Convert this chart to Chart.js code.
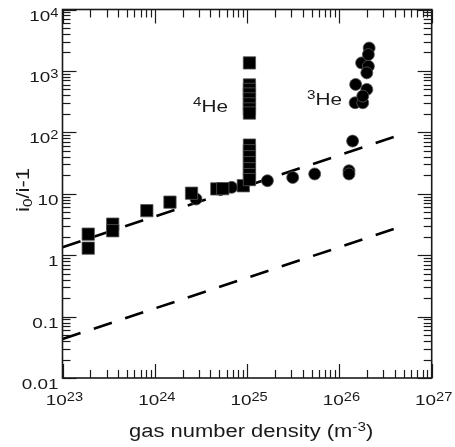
<!DOCTYPE html>
<html>
<head>
<meta charset="utf-8">
<script src="https://cdn.jsdelivr.net/npm/chart.js@4.4.1/dist/chart.umd.min.js"></script>
<style>
  html, body { margin: 0; padding: 0; background: #fff; }
  #wrap { width: 455px; height: 447px; }
</style>
</head>
<body>
<div id="wrap"><canvas id="plot"></canvas></div>
<script>
// 4He points (squares)
const he4Density = [1.9e23, 1.9e23, 3.5e23, 3.5e23, 8.2e23, 1.46e24, 2.5e24, 4.7e24, 5.45e24, 9.1e24,
  1.06e25, 1.06e25, 1.06e25, 1.06e25, 1.06e25, 1.06e25, 1.06e25, 1.06e25,
  1.06e25, 1.06e25, 1.06e25, 1.06e25, 1.06e25, 1.06e25, 1.06e25];
const he4Ratio = [2.2, 1.3, 3.2, 2.5, 5.3, 7.3, 10.2, 12.0, 12.1, 13.5,
  1350, 590, 500, 420, 350, 290, 240, 206,
  62, 50, 40, 32, 25.5, 20.5, 17];

// 3He points (circles)
const he3Density = [2.8e24, 6.8e24, 1.66e25, 3.12e25, 5.4e25, 1.27e26, 1.27e26, 1.39e26,
  1.48e26, 1.79e26, 1.5e26, 1.98e26, 1.79e26, 1.74e26, 2.06e26, 1.98e26, 2.1e26, 2.06e26];
const he3Ratio = [8.2, 12.7, 16.3, 18.4, 21, 23.7, 21, 72,
  303, 303, 603, 500, 389, 1350, 1190, 929, 2360, 1845];

// dashed reference lines (end points)
const lineDensity = [1e23, 4e26];
const upperLine = [1.35, 85];
const lowerLine = [0.043, 2.7];

// axis ticks
const xExponents = [23, 24, 25, 26, 27];
const yTickValues = [0.01, 0.1, 1, 10, 100, 1000, 10000];
const yTickLabels = [['0.01'], ['0.1'], ['1'], ['10'], ['10', '2'], ['10', '3'], ['10', '4']];

const INK = '#1a1a1a';
const FONT = '"Liberation Sans", Arial, Helvetica, sans-serif';
const STRETCH = 1.22;

function toPoints(xs, ys) {
  return xs.map((v, i) => ({ x: v, y: ys[i] }));
}

// text runs: [{text, size, dy}], drawn slightly widened
function runsWidth(ctx, runs) {
  let w = 0;
  runs.forEach(r => {
    ctx.font = r.size + 'px ' + FONT;
    w += ctx.measureText(r.text).width;
  });
  return w * STRETCH;
}

function drawRuns(ctx, runs, x, y, align) {
  const w = runsWidth(ctx, runs);
  const start = align === 'center' ? x - w / 2 : (align === 'right' ? x - w : x);
  ctx.save();
  ctx.translate(start, y);
  ctx.scale(STRETCH, 1);
  ctx.fillStyle = INK;
  ctx.textAlign = 'left';
  ctx.textBaseline = 'alphabetic';
  let cx = 0;
  runs.forEach(r => {
    ctx.font = r.size + 'px ' + FONT;
    ctx.fillText(r.text, cx, r.dy || 0);
    cx += ctx.measureText(r.text).width;
  });
  ctx.restore();
}

function tickLine(ctx, x1, y1, x2, y2) {
  ctx.beginPath();
  ctx.moveTo(x1, y1);
  ctx.lineTo(x2, y2);
  ctx.stroke();
}

const framePlugin = {
  id: 'frame',
  afterDatasetsDraw(chart) {
    const ctx = chart.ctx;
    const a = chart.chartArea;
    const xs = chart.scales.x, ys = chart.scales.y;
    const major = 14, minor = 8;

    ctx.save();
    ctx.strokeStyle = INK;
    ctx.lineWidth = 1.6;
    ctx.strokeRect(a.left, a.top, a.right - a.left, a.bottom - a.top);

    ctx.lineWidth = 1.2;
    // x ticks, bottom and top, pointing inward
    for (let k = 23; k <= 27; k++) {
      for (let m = 1; m <= 9; m++) {
        if (k === 27 && m > 1) break;
        const px = Math.round(xs.getPixelForValue(m * Math.pow(10, k))) + 0.5;
        const len = m === 1 ? major : minor;
        tickLine(ctx, px, a.bottom, px, a.bottom - len);
        tickLine(ctx, px, a.top, px, a.top + len);
      }
    }
    // y ticks, left and right
    for (let k = -2; k <= 4; k++) {
      for (let m = 1; m <= 9; m++) {
        if (k === 4 && m > 1) break;
        const py = Math.round(ys.getPixelForValue(m * Math.pow(10, k))) + 0.5;
        const len = m === 1 ? major : minor;
        tickLine(ctx, a.left, py, a.left + len, py);
        tickLine(ctx, a.right, py, a.right - len, py);
      }
    }

    // x tick labels
    xExponents.forEach(e => {
      const px = xs.getPixelForValue(Math.pow(10, e));
      drawRuns(ctx, [{ text: '10', size: 15.5 }, { text: String(e), size: 12, dy: -4 }],
        px + 2, a.bottom + 27, 'center');
    });

    // y tick labels
    yTickValues.forEach((v, i) => {
      const py = ys.getPixelForValue(v);
      const lab = yTickLabels[i];
      const runs = [{ text: lab[0], size: 15.5 }];
      if (lab[1]) runs.push({ text: lab[1], size: 12, dy: -4 });
      drawRuns(ctx, runs, a.left - 4, py + 11, 'right');
    });

    // axis titles
    drawRuns(ctx, [
      { text: 'gas number density (m', size: 18 },
      { text: '-3', size: 12.5, dy: -6.5 },
      { text: ')', size: 18 }
    ], (a.left + a.right) / 2 + 4, 437, 'center');

    ctx.save();
    ctx.translate(29, 190);
    ctx.rotate(-Math.PI / 2);
    drawRuns(ctx, [
      { text: 'i', size: 18 },
      { text: '0', size: 12.5, dy: 3 },
      { text: '/i-1', size: 18 }
    ], 0, 0, 'center');
    ctx.restore();

    // isotope labels
    drawRuns(ctx, [{ text: '4', size: 12.5, dy: -6.5 }, { text: 'He', size: 17 }], 193, 112, 'left');
    drawRuns(ctx, [{ text: '3', size: 12.5, dy: -6.5 }, { text: 'He', size: 17 }], 307, 105, 'left');

    ctx.restore();
  }
};

const ctx = document.getElementById('plot').getContext('2d');
const chart = new Chart(ctx, {
  type: 'scatter',
  data: {
    datasets: [
      {
        label: '4He',
        data: toPoints(he4Density, he4Ratio),
        pointStyle: 'rect',
        pointRadius: 8.7,
        backgroundColor: '#000',
        borderColor: '#555',
        borderWidth: 0.8
      },
      {
        label: '3He',
        data: toPoints(he3Density, he3Ratio),
        pointStyle: 'circle',
        pointRadius: 6,
        backgroundColor: '#000',
        borderColor: '#555',
        borderWidth: 0.8
      },
      {
        label: 'upper',
        data: toPoints(lineDensity, upperLine),
        showLine: true,
        pointRadius: 0,
        borderColor: '#000',
        borderWidth: 2.6,
        borderDash: [19, 14]
      },
      {
        label: 'lower',
        data: toPoints(lineDensity, lowerLine),
        showLine: true,
        pointRadius: 0,
        borderColor: '#000',
        borderWidth: 2.6,
        borderDash: [19, 14]
      }
    ]
  },
  options: {
    responsive: true,
    maintainAspectRatio: false,
    animation: false,
    layout: { padding: { left: 62.5, right: 23.3, top: 8, bottom: 69 } },
    plugins: { legend: { display: false }, tooltip: { enabled: false } },
    scales: {
      x: { type: 'logarithmic', min: 1e23, max: 1e27, display: false },
      y: { type: 'logarithmic', min: 0.01, max: 1e4, display: false }
    }
  },
  plugins: [framePlugin]
});
</script>
</body>
</html>
